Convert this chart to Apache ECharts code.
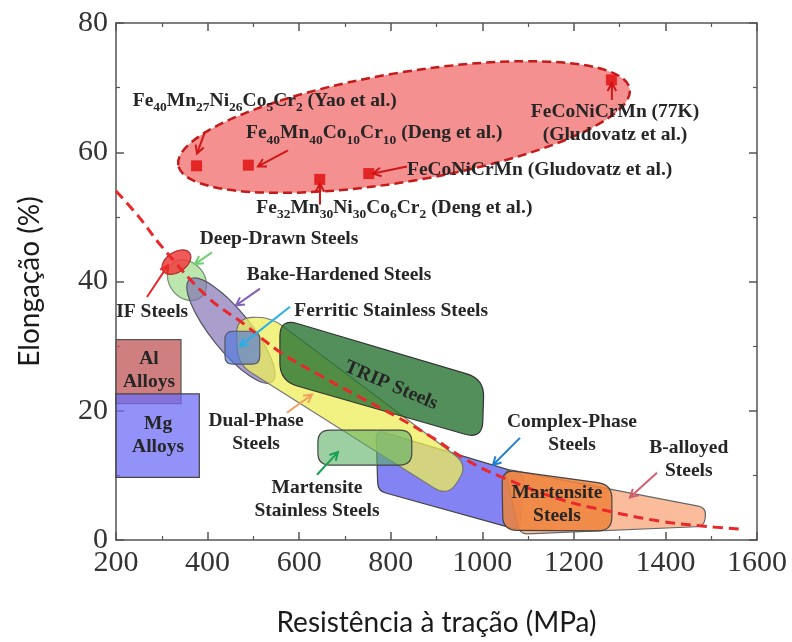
<!DOCTYPE html>
<html>
<head>
<meta charset="utf-8">
<script src="https://cdn.jsdelivr.net/npm/echarts@6/dist/echarts.min.js"></script>
<style>html,body{margin:0;padding:0;background:#fff}#c{width:792px;height:642px}</style>
</head>
<body>
<div id="c"></div>
<script>
// ---------- data (MPa, %) ----------
const heaStrength = [376, 489, 645, 752, 1282];
const heaElong = [57.9, 58.0, 55.8, 56.7, 71.2];

const trendStrength = [200, 250, 300, 400, 480, 560, 650, 730, 820, 890, 970, 1040, 1170, 1280, 1390, 1490, 1560];
const trendElong = [54, 50, 45.4, 37.6, 33.4, 29, 25.3, 22.2, 18.8, 15.9, 12.2, 9.8, 6.3, 4.4, 2.9, 2.1, 1.7];

// ellipses: [centre, major-axis end, minor-axis end]
const heaEllipse = [[829, 63.9], [1322, 69.8], [849, 55.6]];
const ifSteels = [[332, 43.0], [361, 44.4], [344, 41.7]];
const deepDrawn = [[355, 40.2], [386, 37.6], [325, 38.5]];
const bakeHardened = [[451, 32.4], [541, 24.5], [417, 30.5]];

// polygon regions (vertices)
const alAlloys = [[200, 31.0], [342, 31.0], [342, 21.1], [200, 21.1]];
const mgAlloys = [[200, 22.6], [382, 22.6], [382, 9.7], [200, 9.7]];
const ferriticStainless = [[438, 32.3], [514, 32.3], [514, 27.2], [438, 27.2]];
const dualPhase = [[462, 34.3], [536, 34.6], [969, 11.6], [925, 6.7], [466, 27.2]];
const tripSteels = [[558, 34.3], [1004, 24.9], [1000, 15.6], [558, 24.6]];
const martStainless = [[641, 17.0], [846, 17.0], [846, 11.6], [641, 11.6]];
const complexPhase = [[768, 17.0], [1093, 10.1], [1082, 1.5], [772, 7.6]];
const bAlloyed = [[1049, 11.0], [1489, 5.0], [1485, 2.1], [1082, 0.9]];
const martSteels = [[1043, 10.9], [1283, 8.6], [1283, 1.4], [1045, 1.5]];

// arrows
const arrowFrom = [[394.4, 63.2], [575.6, 60.3], [835.5, 57.8], [645.5, 51.9], [1283, 68.1], [267.7, 37.6], [409.7, 44.5], [514.5, 38.9], [580, 36.1], [573.4, 19.7], [639, 10.1], [1082.3, 15.8], [1381.5, 10.4]];
const arrowTo = [[376.9, 59.8], [510.1, 57.8], [761.3, 56.7], [645.5, 55.1], [1283, 70.7], [313.6, 42.5], [372.5, 42.7], [462.1, 36.3], [470.8, 30.0], [628, 22.5], [684.8, 13.6], [1023.3, 11.6], [1322.5, 6.6]];

// annotations
const noteTexts = [
  '{m|Fe}{s|40}{m|Mn}{s|27}{m|Ni}{s|26}{m|Co}{s|5}{m|Cr}{s|2}{m| (Yao et al.)}',
  '{m|Fe}{s|40}{m|Mn}{s|40}{m|Co}{s|10}{m|Cr}{s|10}{m| (Deng et al.)}',
  'FeCoNiCrMn (Gludovatz et al.)',
  '{m|Fe}{s|32}{m|Mn}{s|30}{m|Ni}{s|30}{m|Co}{s|6}{m|Cr}{s|2}{m| (Deng et al.)}',
  'FeCoNiCrMn (77K)\n(Gludovatz et al.)',
  'Deep-Drawn Steels',
  'Bake-Hardened Steels',
  'Ferritic Stainless Steels',
  'IF Steels',
  'TRIP Steels',
  'Dual-Phase\nSteels',
  'Martensite\nStainless Steels',
  'Complex-Phase\nSteels',
  'B-alloyed\nSteels',
  'Martensite\nSteels',
  'Al\nAlloys',
  'Mg\nAlloys'
];
const noteX = [525, 764, 835.5, 808, 1290, 556, 687, 801, 279, 801, 506, 639, 1196, 1451, 1163, 272, 292];
const noteY = [67.7, 62.6, 57.3, 51.1, 64.4, 46.6, 41.0, 35.5, 35.3, 23.9, 16.7, 6.3, 16.5, 12.4, 5.5, 26.2, 16.2];

// ---------- styles ----------
const regionList = [
  {kind: 'ellipse', pts: heaEllipse, fill: 'rgba(238,70,70,0.6)', stroke: '#c41a1a', lw: 2.5, dash: [9, 5]},
  {kind: 'ellipse', pts: deepDrawn, fill: 'rgba(165,222,145,0.75)', stroke: '#6f8f6f', lw: 1.2},
  {kind: 'ellipse', pts: ifSteels, fill: 'rgba(240,60,60,0.85)', stroke: '#b03030', lw: 1.2},
  {kind: 'ellipse', pts: bakeHardened, fill: 'rgba(128,112,180,0.68)', stroke: '#555566', lw: 1.2},
  {kind: 'poly', pts: complexPhase, r: 8, fill: 'rgba(100,100,240,0.8)', stroke: '#444', lw: 1.2},
  {kind: 'poly', pts: dualPhase, r: 16, fill: 'rgba(238,238,90,0.75)', stroke: '#777', lw: 1.2},
  {kind: 'poly', pts: ferriticStainless, r: 8, fill: 'rgba(80,120,220,0.65)', stroke: '#556', lw: 1.2},
  {kind: 'poly', pts: tripSteels, r: 18, fill: 'rgba(40,115,50,0.8)', stroke: '#333', lw: 1.2},
  {kind: 'poly', pts: martStainless, r: 12, fill: 'rgba(90,175,100,0.6)', stroke: '#444', lw: 1.2},
  {kind: 'poly', pts: bAlloyed, r: 8, fill: 'rgba(248,165,120,0.75)', stroke: '#666', lw: 1.2},
  {kind: 'poly', pts: martSteels, r: 14, fill: 'rgba(238,130,60,0.85)', stroke: '#444', lw: 1.2},
  {kind: 'poly', pts: alAlloys, r: 0, fill: 'rgba(195,95,95,0.8)', stroke: '#555', lw: 1.2},
  {kind: 'poly', pts: mgAlloys, r: 0, fill: 'rgba(110,110,245,0.75)', stroke: '#444', lw: 1.2}
];
const arrowColors = ['#d01818', '#d01818', '#d01818', '#d01818', '#d01818', '#e82828', '#6fd06f', '#8060b8', '#28b0e8', '#f0a060', '#18a050', '#2080d0', '#d06070'];
const noteAlign = ['center', 'center', 'left', 'center', 'center', 'center', 'center', 'center', 'center', 'center', 'center', 'center', 'center', 'center', 'center', 'center', 'center'];
const noteRot = [0, 0, 0, 0, 0, 0, 0, 0, 0, -23, 0, 0, 0, 0, 0, 0, 0];
const SERIF = '"Liberation Serif", "Times New Roman", serif';
const NOTE_SIZE = 19.5, SUB_SIZE = 13.5;

function roundedPath(pts, r) {
  const n = pts.length;
  let d = '';
  for (let i = 0; i < n; i++) {
    const p = pts[i], prev = pts[(i - 1 + n) % n], next = pts[(i + 1) % n];
    const l1 = Math.hypot(prev[0] - p[0], prev[1] - p[1]);
    const l2 = Math.hypot(next[0] - p[0], next[1] - p[1]);
    const rr = Math.min(r, l1 / 2, l2 / 2);
    const a = [p[0] + (prev[0] - p[0]) * rr / l1, p[1] + (prev[1] - p[1]) * rr / l1];
    const b = [p[0] + (next[0] - p[0]) * rr / l2, p[1] + (next[1] - p[1]) * rr / l2];
    d += (i === 0 ? 'M' : 'L') + a[0].toFixed(2) + ' ' + a[1].toFixed(2) +
      ' Q' + p[0].toFixed(2) + ' ' + p[1].toFixed(2) + ' ' + b[0].toFixed(2) + ' ' + b[1].toFixed(2) + ' ';
  }
  return d + 'Z';
}

function renderRegion(params, api) {
  const reg = regionList[params.dataIndex];
  const style = {fill: reg.fill, stroke: reg.stroke, lineWidth: reg.lw, lineDash: reg.dash || null};
  if (reg.kind === 'ellipse') {
    const c = api.coord(reg.pts[0]), a = api.coord(reg.pts[1]), b = api.coord(reg.pts[2]);
    const dx = a[0] - c[0], dy = a[1] - c[1];
    const rx = Math.hypot(dx, dy);
    const ux = dx / rx, uy = dy / rx;
    const ry = Math.abs((b[0] - c[0]) * uy - (b[1] - c[1]) * ux);
    return {type: 'ellipse', x: c[0], y: c[1], rotation: -Math.atan2(dy, dx),
      shape: {cx: 0, cy: 0, rx: rx, ry: ry}, style: style};
  }
  const px = reg.pts.map(p => api.coord(p));
  return {type: 'path', shape: {pathData: roundedPath(px, reg.r)}, style: style};
}

function renderArrow(params, api) {
  const i = params.dataIndex;
  const p1 = api.coord(arrowFrom[i]), p2 = api.coord(arrowTo[i]);
  const ang = Math.atan2(p2[1] - p1[1], p2[0] - p1[0]);
  const h = 9, w = 0.5;
  const l = [p2[0] - h * Math.cos(ang - w), p2[1] - h * Math.sin(ang - w)];
  const r = [p2[0] - h * Math.cos(ang + w), p2[1] - h * Math.sin(ang + w)];
  const c = arrowColors[i];
  return {type: 'group', children: [
    {type: 'line', shape: {x1: p1[0], y1: p1[1], x2: p2[0], y2: p2[1]}, style: {stroke: c, lineWidth: 2}},
    {type: 'polyline', shape: {points: [l, p2, r]}, style: {stroke: c, lineWidth: 2, fill: null}}
  ]};
}

function renderNote(params, api) {
  const i = params.dataIndex;
  const p = api.coord([noteX[i], noteY[i]]);
  return {type: 'text', x: p[0], y: p[1], rotation: noteRot[i] * Math.PI / 180,
    style: {
      text: noteTexts[i], align: noteAlign[i], verticalAlign: 'middle',
      fontFamily: SERIF, fontWeight: 'bold', fontSize: NOTE_SIZE, lineHeight: 23, fill: '#262626',
      rich: {
        m: {fontFamily: SERIF, fontWeight: 'bold', fontSize: NOTE_SIZE, lineHeight: 21, padding: [0, 0, 4, 0], fill: '#262626'},
        s: {fontFamily: SERIF, fontWeight: 'bold', fontSize: SUB_SIZE, lineHeight: 15, padding: [10, 0, 0, 0], fill: '#262626'}
      }
    }};
}

const axisLineStyle = {color: '#555', width: 1.5};
const plainNumber = v => String(v);
function xAxisDef(pos, showLabel) {
  return {
    type: 'value', position: pos, min: 200, max: 1600, interval: 200,
    axisLine: {show: true, onZero: false, lineStyle: axisLineStyle},
    axisTick: {show: true, inside: true, length: 8, lineStyle: axisLineStyle},
    minorTick: {show: true, splitNumber: 2, length: 4, lineStyle: {color: '#555', width: 1.2}},
    splitLine: {show: false}, minorSplitLine: {show: false},
    axisLabel: {show: showLabel, margin: 8, fontFamily: SERIF, fontSize: 30, color: '#333', formatter: plainNumber}
  };
}
function yAxisDef(pos, showLabel) {
  return {
    type: 'value', position: pos, min: 0, max: 80, interval: 20,
    axisLine: {show: true, onZero: false, lineStyle: axisLineStyle},
    axisTick: {show: true, inside: true, length: 8, lineStyle: axisLineStyle},
    minorTick: {show: true, splitNumber: 2, length: 4, lineStyle: {color: '#555', width: 1.2}},
    splitLine: {show: false}, minorSplitLine: {show: false},
    axisLabel: {show: showLabel, margin: 8, fontFamily: SERIF, fontSize: 30, color: '#333', formatter: plainNumber}
  };
}

const xa = xAxisDef('bottom', true);
xa.name = 'Resistência à tração (MPa)';
xa.nameLocation = 'middle';
xa.nameGap = 69;
xa.nameTextStyle = {fontFamily: 'Lato, "Open Sans", sans-serif', fontSize: 28, color: '#1a1a1a'};
const ya = yAxisDef('left', true);
ya.name = 'Elongação (%)';
ya.nameLocation = 'middle';
ya.nameGap = 72;
ya.nameTextStyle = {fontFamily: 'Lato, "Open Sans", sans-serif', fontSize: 28, color: '#1a1a1a'};

const chart = echarts.init(document.getElementById('c'), null, {renderer: 'canvas'});
chart.setOption({
  animation: false,
  backgroundColor: '#fff',
  grid: {left: 116, right: 35, top: 23, bottom: 96, containLabel: false},
  xAxis: [xa, xAxisDef('top', false)],
  yAxis: [ya, yAxisDef('right', false)],
  series: [
    {type: 'custom', name: 'regions', renderItem: renderRegion, data: regionList.map((_, i) => i), z: 1, silent: true},
    {type: 'line', name: 'trend', data: trendStrength.map((x, i) => [x, trendElong[i]]), smooth: 0.4, symbol: 'none',
      lineStyle: {color: '#e8282a', width: 3, type: [10, 6]}, z: 3, silent: true},
    {type: 'custom', name: 'arrows', renderItem: renderArrow, data: arrowFrom.map((_, i) => i), z: 4, silent: true},
    {type: 'scatter', name: 'HEA', data: heaStrength.map((x, i) => [x, heaElong[i]]), symbol: 'rect', symbolSize: 11,
      itemStyle: {color: '#e00a0a'}, z: 5, silent: true},
    {type: 'custom', name: 'notes', renderItem: renderNote, data: noteTexts.map((_, i) => i), z: 6, silent: true}
  ]
});
</script>
</body>
</html>
